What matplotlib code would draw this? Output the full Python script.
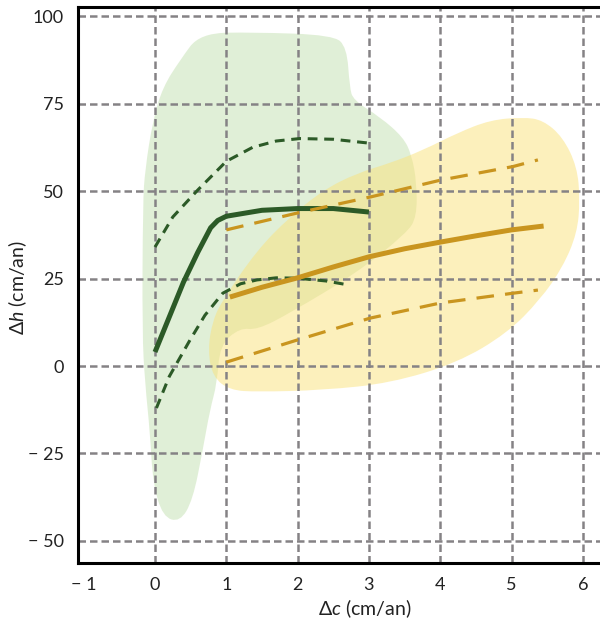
import matplotlib
matplotlib.use("Agg")
import matplotlib.pyplot as plt
from matplotlib.patches import PathPatch
from matplotlib.path import Path

plt.rcParams['font.family'] = ['Lato', 'DejaVu Sans']
plt.rcParams['mathtext.fontset'] = 'custom'
plt.rcParams['mathtext.rm'] = 'Lato'
plt.rcParams['mathtext.it'] = 'Lato:italic'

# ---- data ----
x_ticks = [-1, 0, 1, 2, 3, 4, 5, 6]
x_tick_labels = ["− 1", "0", "1", "2", "3", "4", "5", "6"]
y_ticks = [-50, -25, 0, 25, 50, 75, 100]
y_tick_labels = ["− 50", "− 25", "0", "25", "50", "75", "100"]

green_region_x = [0.63, 1.37, 2.50, 2.69, 2.73, 2.78, 3.16, 3.48, 3.60, 3.67, 3.67, 3.53,
                  2.83, 1.89, 1.43, 1.19, 0.91, 0.87, 0.77, 0.67, 0.53, 0.35, 0.11, -0.03,
                  -0.07, -0.14, -0.18, -0.17, -0.14, -0.03, 0.11, 0.35]
green_region_y = [95.1, 95.4, 94.6, 91.1, 79.7, 76.0, 71.1, 65.4, 60.3, 52.3, 42.6, 38.0,
                  26.6, 15.1, 10.3, 10.9, 6.0, -4.9, -12.6, -24.0, -38.3, -44.6, -43.1, -33.4,
                  -19.1, -4.9, 9.4, 46.6, 56.0, 70.3, 79.7, 87.4]

yellow_region_x = [0.81, 0.95, 1.43, 1.89, 2.36, 2.83, 3.30, 3.76, 4.24, 4.70, 5.16, 5.44,
                   5.72, 5.92, 5.96, 5.92, 5.72, 5.40, 4.94, 4.24, 3.30, 2.36, 1.43, 1.05,
                   0.81, 0.74]
yellow_region_y = [13.1, 18.9, 33.1, 42.6, 50.3, 55.1, 58.0, 61.7, 66.6, 70.3, 71.1, 70.3,
                   65.4, 56.9, 47.4, 38.0, 28.3, 18.9, 9.4, 0.9, -4.9, -6.9, -7.4, -6.9,
                   -3.1, 4.6]

green_mid_x = [0.0, 0.2, 0.4, 0.6, 0.78, 0.88, 1.0, 1.5, 2.0, 2.5, 3.0]
green_mid_y = [4.0, 14.0, 24.0, 32.5, 39.5, 41.6, 42.8, 44.5, 45.0, 45.0, 44.0]
green_up_x = [0.0, 0.25, 0.6, 1.0, 1.37, 1.7, 2.03, 2.5, 3.0]
green_up_y = [34.0, 42.6, 50.3, 58.5, 62.5, 64.3, 65.0, 64.8, 63.7]
green_lo_x = [0.02, 0.2, 0.49, 0.7, 0.95, 1.2, 1.43, 1.7, 1.99, 2.4, 2.73]
green_lo_y = [-12.0, -3.0, 7.4, 14.5, 20.8, 23.5, 24.6, 25.2, 25.1, 24.3, 23.1]

orange_mid_x = [1.05, 1.5, 2.0, 2.5, 3.0, 3.5, 4.0, 4.5, 5.0, 5.45]
orange_mid_y = [19.7, 22.5, 25.2, 28.3, 31.2, 33.5, 35.4, 37.2, 38.9, 40.0]
orange_up_x = [1.0, 1.99, 3.02, 4.0, 5.02, 5.37]
orange_up_y = [38.9, 43.7, 48.3, 53.1, 57.0, 58.9]
orange_lo_x = [1.0, 1.99, 3.02, 4.0, 5.02, 5.37]
orange_lo_y = [1.1, 7.4, 13.7, 18.0, 20.8, 21.7]


def smooth_closed_path(xs, ys):
    pts = list(zip(xs, ys))
    n = len(pts)
    mids = [((pts[i][0] + pts[(i + 1) % n][0]) / 2, (pts[i][1] + pts[(i + 1) % n][1]) / 2)
            for i in range(n)]
    verts = [mids[-1]]
    codes = [Path.MOVETO]
    for i in range(n):
        verts += [pts[i], mids[i]]
        codes += [Path.CURVE3, Path.CURVE3]
    verts.append(mids[-1])
    codes.append(Path.CLOSEPOLY)
    return Path(verts, codes)


# ---- figure ----
fig = plt.figure(figsize=(6.0, 6.19), dpi=100)
ax = fig.add_axes([78/600, 56/619, (652-78)/600, (563-7)/619])
ax.set_xlim(-1.08, 6.97)
ax.set_ylim(-56.3, 102.6)

green_fill = '#c3e0b0'
yellow_fill = '#fae27a'
dark_green = '#2c5a27'
orange = '#c9951f'

ax.add_patch(PathPatch(smooth_closed_path(green_region_x, green_region_y),
                       facecolor=green_fill, alpha=0.5, edgecolor='none', zorder=1))
ax.add_patch(PathPatch(smooth_closed_path(yellow_region_x, yellow_region_y),
                       facecolor=yellow_fill, alpha=0.5, edgecolor='none', zorder=1))

grid_kw = dict(color='#858285', lw=1.8, ls=(0, (3, 1.6)), zorder=2)
for xv in x_ticks[1:]:
    ax.axvline(xv, **grid_kw)
for yv in y_ticks:
    ax.axhline(yv, **grid_kw)

ax.plot(green_mid_x, green_mid_y, color=dark_green, lw=3.6, solid_capstyle='butt',
        solid_joinstyle='round', zorder=4)
ax.plot(green_up_x, green_up_y, color=dark_green, lw=2.2, ls=(0, (3.2, 2.2)), zorder=4)
ax.plot(green_lo_x, green_lo_y, color=dark_green, lw=2.2, ls=(0, (3.2, 2.2)), zorder=4)

ax.plot(orange_mid_x, orange_mid_y, color=orange, lw=3.6, solid_capstyle='butt',
        solid_joinstyle='round', zorder=4)
ax.plot(orange_up_x, orange_up_y, color=orange, lw=2.3, ls=(0, (5.5, 3.5)), zorder=4)
ax.plot(orange_lo_x, orange_lo_y, color=orange, lw=2.3, ls=(0, (5.5, 3.5)), zorder=4)

ax.set_xticks(x_ticks)
ax.set_xticklabels(x_tick_labels)
ax.set_yticks(y_ticks)
ax.set_yticklabels(y_tick_labels)
ax.tick_params(length=0, labelsize=13, colors='#222222')
ax.tick_params(axis='x', pad=10)
ax.tick_params(axis='y', pad=10)

for s in ['left', 'bottom', 'top']:
    ax.spines[s].set_linewidth(2.2)
    ax.spines[s].set_color('black')
    ax.spines[s].set_zorder(5)
ax.spines['right'].set_visible(False)

ax.set_xlabel(r"Δ$c$ (cm/an)", fontsize=14, color='#222222')
ax.set_ylabel(r"Δ$h$ (cm/an)", fontsize=14, color='#222222')
ax.xaxis.set_label_coords((365-78)/(652-78), -(597-563)/556, transform=ax.transAxes)
ax.yaxis.set_label_coords(-(78-29)/574, (563-288)/556, transform=ax.transAxes)

fig.savefig("out.png", dpi=100)
